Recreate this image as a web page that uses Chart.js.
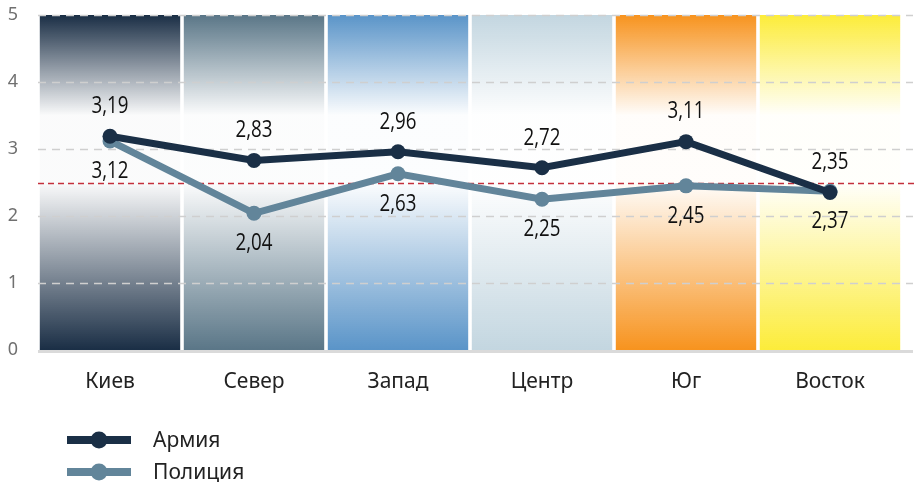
<!DOCTYPE html>
<html>
<head>
<meta charset="utf-8">
<script src="https://cdn.jsdelivr.net/npm/chart.js@4/dist/chart.umd.min.js"></script>
<style>
  html, body { margin: 0; padding: 0; background: #fff; }
  #wrap { width: 916px; height: 487px; position: relative; }
</style>
</head>
<body>
<div id="wrap"><canvas id="c" width="916" height="487"></canvas></div>
<script>
// ---- data ----
const categories = ['Киев', 'Север', 'Запад', 'Центр', 'Юг', 'Восток'];
const seriesNames = ['Армия', 'Полиция'];
const army = [3.19, 2.83, 2.96, 2.72, 3.11, 2.35];
const police = [3.12, 2.04, 2.63, 2.25, 2.45, 2.37];
const bandValues = [5, 5, 5, 5, 5, 5];
const yTicks = [0, 1, 2, 3, 4, 5];
const threshold = 2.5;

// ---- styles ----
const bandColors = ['#1a2e45', '#5a7687', '#5a94c8', '#c3d6e0', '#f7931e', '#fcec3a'];
const armyColor = '#1a2f46';
const policeColor = '#62859a';
const labelFont = "'Open Sans', 'Noto Sans', sans-serif";
const textFont = "'Noto Sans', 'Open Sans', sans-serif";

function hexToRgba(hex, a) {
  const n = parseInt(hex.slice(1), 16);
  return `rgba(${(n >> 16) & 255},${(n >> 8) & 255},${n & 255},${a})`;
}

const gridPlugin = {
  id: 'gridOverBands',
  afterDatasetDraw(chart, args) {
    if (args.index !== 0) return;
    const { ctx, chartArea } = chart;
    const y = chart.scales.y;
    ctx.save();
    ctx.strokeStyle = '#cfcfcf';
    ctx.lineWidth = 1.5;
    ctx.setLineDash([8, 6]);
    yTicks.forEach(v => {
      if (v === 0) return;
      const py = Math.round(y.getPixelForValue(v)) + 0.5;
      ctx.beginPath();
      ctx.moveTo(chartArea.left, py);
      ctx.lineTo(chartArea.right + 11, py);
      ctx.stroke();
    });
    ctx.setLineDash([]);
    ctx.strokeStyle = '#dadada';
    ctx.lineWidth = 3;
    const by = y.getPixelForValue(0) + 1.5;
    ctx.beginPath();
    ctx.moveTo(chartArea.left, by);
    ctx.lineTo(chartArea.right + 11, by);
    ctx.stroke();
    ctx.strokeStyle = '#c4303c';
    ctx.lineWidth = 1.5;
    ctx.setLineDash([6, 4]);
    const ty = Math.round(y.getPixelForValue(threshold)) + 0.5;
    ctx.beginPath();
    ctx.moveTo(chartArea.left, ty);
    ctx.lineTo(chart.width, ty);
    ctx.stroke();
    ctx.restore();
  }
};

const valueLabelPlugin = {
  id: 'valueLabels',
  afterDatasetsDraw(chart) {
    const { ctx } = chart;
    [1, 2].forEach(di => {
      const meta = chart.getDatasetMeta(di);
      const vals = chart.data.datasets[di].data;
      const off = di === 1 ? -30 : 30;
      meta.data.forEach((pt, i) => {
        ctx.save();
        ctx.translate(pt.x, pt.y + off);
        ctx.scale(0.78, 1);
        ctx.font = `500 24px ${labelFont}`;
        ctx.fillStyle = '#111';
        ctx.textAlign = 'center';
        ctx.textBaseline = 'middle';
        ctx.fillText(vals[i].toFixed(2).replace('.', ','), 0, 0);
        ctx.restore();
      });
    });
  }
};

const legendPlugin = {
  id: 'vertLegend',
  afterDraw(chart) {
    const { ctx } = chart;
    const colors = [armyColor, policeColor];
    ctx.save();
    seriesNames.forEach((name, i) => {
      const cy = 440 + i * 32;
      ctx.strokeStyle = colors[i];
      ctx.lineWidth = 8;
      ctx.beginPath();
      ctx.moveTo(67, cy);
      ctx.lineTo(131, cy);
      ctx.stroke();
      ctx.fillStyle = colors[i];
      ctx.beginPath();
      ctx.arc(99, cy, 8.5, 0, Math.PI * 2);
      ctx.fill();
      ctx.fillStyle = '#222';
      ctx.font = `21px ${textFont}`;
      ctx.textAlign = 'left';
      ctx.textBaseline = 'middle';
      ctx.fillText(name, 153, cy + 1);
    });
    ctx.restore();
  }
};

function bandGradient(context) {
  const chart = context.chart;
  const ca = chart.chartArea;
  const c = bandColors[context.dataIndex];
  if (!ca) return c;
  const g = chart.ctx.createLinearGradient(0, ca.top, 0, ca.bottom);
  g.addColorStop(0, c);
  g.addColorStop(0.3, hexToRgba(c, 0.02));
  g.addColorStop(0.5, hexToRgba(c, 0.02));
  g.addColorStop(1, c);
  return g;
}

new Chart(document.getElementById('c'), {
  data: {
    labels: categories,
    datasets: [
      {
        type: 'bar',
        data: bandValues,
        backgroundColor: bandGradient,
        borderWidth: 0,
        barPercentage: 0.975,
        categoryPercentage: 1,
        order: 10
      },
      {
        type: 'line',
        label: seriesNames[0],
        data: army,
        borderColor: armyColor,
        backgroundColor: armyColor,
        borderWidth: 7,
        pointRadius: 7.5,
        pointBorderWidth: 0,
        tension: 0,
        order: 1
      },
      {
        type: 'line',
        label: seriesNames[1],
        data: police,
        borderColor: policeColor,
        backgroundColor: policeColor,
        borderWidth: 7,
        pointRadius: 7.5,
        pointBorderWidth: 0,
        tension: 0,
        order: 2
      }
    ]
  },
  options: {
    responsive: false,
    animation: false,
    events: [],
    layout: { padding: { top: 15, right: 14, left: 0, bottom: 0 } },
    plugins: { legend: { display: false }, tooltip: { enabled: false } },
    scales: {
      x: {
        grid: { display: false, drawTicks: false },
        border: { display: false },
        ticks: { color: '#222', font: { family: textFont, size: 21 }, padding: 19, maxRotation: 0 },
        afterFit(s) { s.height = 137; }
      },
      y: {
        min: 0, max: 5,
        afterBuildTicks(s) { s.ticks = yTicks.map(v => ({ value: v })); },
        grid: { display: false, drawTicks: false },
        border: { display: false },
        ticks: { color: '#707070', font: { family: textFont, size: 18 }, padding: 20 },
        afterFit(s) { s.width = 38; s.paddingTop = 8; s.paddingBottom = 8; }
      }
    }
  },
  plugins: [gridPlugin, valueLabelPlugin, legendPlugin]
});
</script>
</body>
</html>
